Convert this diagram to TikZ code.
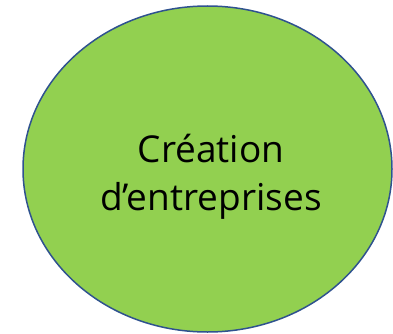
\documentclass[tikz,border=0pt]{standalone}
\usepackage{fontspec}
\setmainfont{Open Sans}
\definecolor{fillgreen}{HTML}{92D050}
\definecolor{edgeblue}{HTML}{2F528F}
\usetikzlibrary{shapes.geometric}
\tikzset{blob/.style={ellipse, draw=edgeblue, fill=fillgreen, line width=1.5pt, minimum width=369pt, minimum height=326pt, inner sep=0pt},
lbl/.style={align=center, font=\fontsize{37}{48}\selectfont, text=black}}
\begin{document}
\begin{tikzpicture}[x=1pt,y=-1pt]
\useasboundingbox (0,0) rectangle (393,334);
\node[blob] (e) at (207.5,169) {};
\node[lbl] (t) at (211,177) {Création\\d’entreprises};
\end{tikzpicture}
\end{document}
